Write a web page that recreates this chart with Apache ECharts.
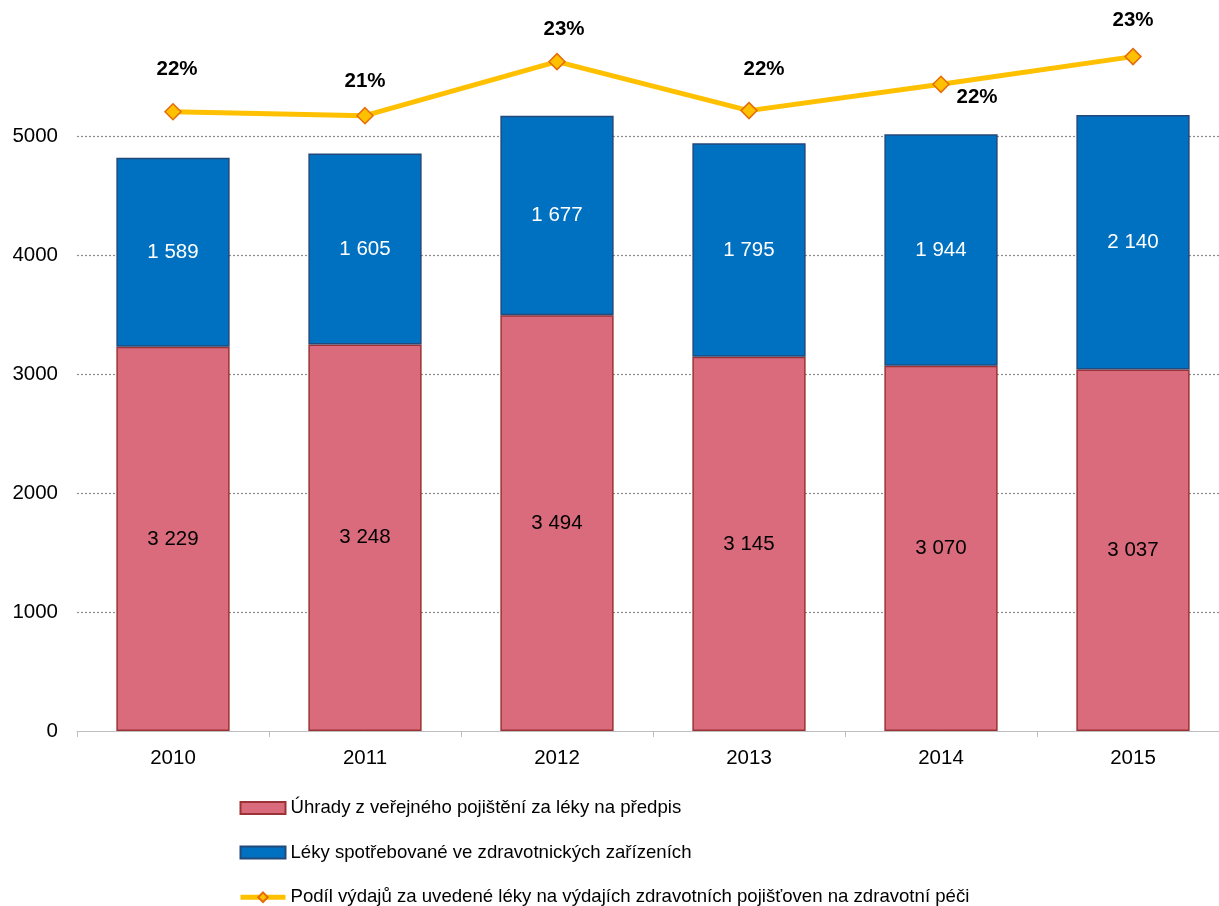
<!DOCTYPE html>
<html lang="cs">
<head>
    <meta charset="utf-8">
    <title>Výdaje na léky</title>
    <style>
        html, body { margin: 0; padding: 0; background: #fff; overflow: hidden; }
        /* plot runs a little past the right edge, as in the original */
        #chart { width: 1229px; height: 906px; }
    </style>
</head>
<body>
<div id="chart"></div>
<script src="https://cdn.jsdelivr.net/npm/echarts@6.0.0/dist/echarts.min.js"></script>
<script type="text/javascript">

// data
var years = ['2010', '2011', '2012', '2013', '2014', '2015'];
var prescriptionPayments = [3229, 3248, 3494, 3145, 3070, 3037];
var facilityDrugs = [1589, 1605, 1677, 1795, 1944, 2140];
var sharePercent = [21.55, 21.44, 22.94, 21.58, 22.31, 23.08];

var seriesNames = [
    'Úhrady z veřejného pojištění za léky na předpis',
    'Léky spotřebované ve zdravotnických zařízeních',
    'Podíl výdajů za uvedené léky na výdajích zdravotních pojišťoven na zdravotní péči'
];

// label nudges for the percent labels (same order as years)
var pctLabelOffsets = [[4, -8], [0, 0], [7, 2], [15, -7], [36, 47], [0, -2]];

var font = 'Liberation Sans, Arial, sans-serif';
var numSize = 20.5;

// "3 229" style
function fmt(v) {
    return String(v).replace(/\B(?=(\d{3})+(?!\d))/g, ' ');
}

var chart = echarts.init(document.getElementById('chart'));

var option = {
    animation: false,
    textStyle: { fontFamily: font },
    grid: { left: 77, right: 0, top: 17, bottom: 175 },
    legend: {
        orient: 'vertical',
        left: 238,
        top: 798,
        height: 200,
        padding: 0,
        itemWidth: 45,
        itemHeight: 12,
        itemGap: 24.6,
        textStyle: { fontSize: 18.6, color: '#000', lineHeight: 20, fontFamily: font },
        data: [
            { name: seriesNames[0], icon: 'rect' },
            { name: seriesNames[1], icon: 'rect' },
            { name: seriesNames[2], lineStyle: { width: 5 } }
        ]
    },
    xAxis: {
        type: 'category',
        data: years,
        axisLine: { lineStyle: { color: '#bfbfbf', width: 1 } },
        axisTick: { show: true, length: 6, lineStyle: { color: '#bfbfbf' } },
        axisLabel: { color: '#000', fontSize: numSize, margin: 17, fontFamily: font }
    },
    yAxis: [{
        type: 'value',
        min: 0,
        max: 6000,
        interval: 1000,
        axisLine: { show: false },
        axisTick: { show: false },
        axisLabel: {
            color: '#000',
            fontSize: numSize,
            margin: 19,
            showMaxLabel: false,
            fontFamily: font,
            formatter: function (v) { return String(v); }
        },
        splitLine: {
            show: true,
            showMinLine: false,
            showMaxLine: false,
            lineStyle: { color: '#8c8c8c', type: [2, 2], width: 1.2 }
        }
    }, {
        // hidden secondary axis for the percentage line
        type: 'value',
        min: 4.35,
        max: 24.18,
        show: false,
        splitLine: { show: false }
    }],
    series: [{
        name: seriesNames[0],
        type: 'bar',
        stack: 'leky',
        data: prescriptionPayments,
        barCategoryGap: '41%',
        itemStyle: { color: '#D96B7D', borderColor: '#9B3236', borderWidth: 1.5 },
        label: {
            show: true,
            position: 'inside',
            color: '#000',
            fontSize: numSize,
            fontFamily: font,
            formatter: function (p) { return fmt(p.value); }
        }
    }, {
        name: seriesNames[1],
        type: 'bar',
        stack: 'leky',
        data: facilityDrugs,
        itemStyle: { color: '#0070C0', borderColor: '#23497A', borderWidth: 1.5 },
        label: {
            show: true,
            position: 'inside',
            color: '#fff',
            fontSize: numSize,
            fontFamily: font,
            formatter: function (p) { return fmt(p.value); }
        }
    }, {
        name: seriesNames[2],
        type: 'line',
        yAxisIndex: 1,
        clip: false,
        data: sharePercent.map(function (v, i) {
            return { value: v, label: { offset: pctLabelOffsets[i] } };
        }),
        symbol: 'diamond',
        symbolSize: 16,
        lineStyle: { color: '#FFC000', width: 5 },
        itemStyle: { color: '#FFC000', borderColor: '#E46C0A', borderWidth: 1.5 },
        label: {
            show: true,
            position: 'top',
            distance: 15,
            color: '#000',
            fontSize: numSize,
            fontWeight: 'bold',
            fontFamily: font,
            formatter: function (p) { return Math.round(p.value) + '%'; }
        }
    }]
};

chart.setOption(option);

</script>
</body>
</html>
